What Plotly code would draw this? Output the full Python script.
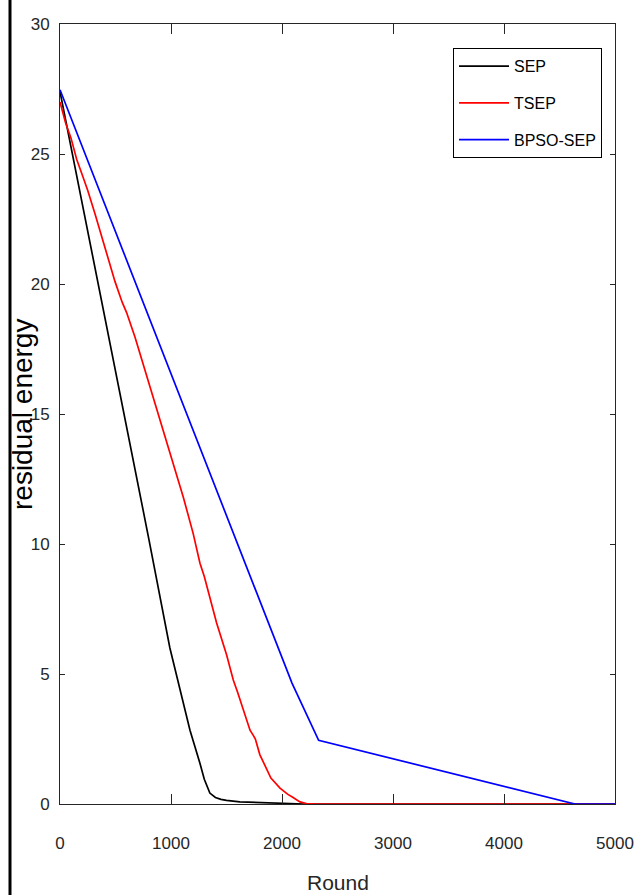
import plotly.graph_objects as go

# ---- data ----
sep_round = [0, 200, 400, 630, 800, 990, 1100, 1171, 1260, 1300, 1350, 1400, 1450, 1500, 1620, 1800, 2000, 2200, 5000]
sep_energy = [27.4, 23.1, 18.8, 14.0, 10.2, 6.0, 4.1, 2.84, 1.58, 0.95, 0.42, 0.25, 0.18, 0.14, 0.08, 0.05, 0.02, 0.0, 0.0]

tsep_round = [0, 50, 100, 150, 200, 250, 315, 400, 495, 560, 600, 676, 750, 800, 856, 916, 1000, 1111, 1200, 1261, 1300,
              1411, 1500, 1561, 1600, 1712, 1740, 1760, 1800, 1862, 1900, 1982, 2050, 2100, 2162, 2220, 2300, 5000]
tsep_energy = [27.0, 26.2, 25.6, 24.8, 24.2, 23.6, 22.7, 21.5, 20.1, 19.3, 18.9, 17.95, 16.9, 16.2, 15.4, 14.5, 13.3, 11.8,
               10.4, 9.26, 8.75, 6.96, 5.75, 4.77, 4.3, 2.84, 2.65, 2.5, 1.9, 1.31, 1.0, 0.61, 0.38, 0.25, 0.08, 0.02, 0.0, 0.0]

bpso_round = [0, 500, 1000, 1500, 2090, 2330, 3000, 3990, 4640, 5000]
bpso_energy = [27.47, 22.0, 16.55, 11.1, 4.65, 2.45, 1.74, 0.69, 0.0, 0.0]

x_ticks = [0, 1000, 2000, 3000, 4000, 5000]
y_ticks = [0, 5, 10, 15, 20, 25, 30]

FONT = "Liberation Sans, Arial, sans-serif"
AX = "#262626"

fig = go.Figure()
fig.add_trace(go.Scatter(x=sep_round, y=sep_energy, mode="lines", name="SEP", legendgroup="a",
                         line=dict(color="#000000", width=1.7)))
fig.add_trace(go.Scatter(x=tsep_round, y=tsep_energy, mode="lines", name="TSEP", legendgroup="b",
                         line=dict(color="#ff0000", width=1.7)))
fig.add_trace(go.Scatter(x=bpso_round, y=bpso_energy, mode="lines", name="BPSO-SEP", legendgroup="c",
                         line=dict(color="#0000ff", width=1.7)))

fig.update_layout(
    width=637, height=895,
    margin=dict(l=60, r=22, t=24, b=91, autoexpand=False),
    paper_bgcolor="white", plot_bgcolor="white",
    font=dict(family=FONT, color=AX, size=17),
    showlegend=True,
    legend=dict(x=0.9766, y=0.969, xanchor="right", yanchor="top",
                bgcolor="white", bordercolor="#000000", borderwidth=1,
                font=dict(family=FONT, size=16, color="#000000"),
                tracegroupgap=13, itemwidth=50),
    shapes=[dict(type="line", xref="paper", yref="paper",
                 x0=-50/555, x1=-50/555, y0=-91/780, y1=1 + 24/780,
                 line=dict(color="black", width=3))],
    annotations=[
        dict(text="residual energy", xref="paper", yref="paper", x=-38/555, y=0.4987,
             textangle=-90, showarrow=False, xanchor="center", yanchor="middle",
             font=dict(family=FONT, size=28, color="#000000")),
        dict(text="Round", xref="paper", yref="paper", x=0.5, y=-78/780,
             showarrow=False, xanchor="center", yanchor="middle",
             font=dict(family=FONT, size=21, color=AX)),
    ],
)

fig.update_xaxes(range=[0, 5000], tickvals=x_ticks, ticktext=[str(v) for v in x_ticks],
                 ticks="inside", ticklen=10, tickwidth=1, tickcolor=AX,
                 showline=True, linecolor=AX, linewidth=1, mirror="ticks",
                 showgrid=False, zeroline=False, automargin=False,
                 ticklabelstandoff=24, ticklabeloverflow="allow",
                 tickfont=dict(family=FONT, size=17, color=AX))
fig.update_yaxes(range=[0, 30], tickvals=y_ticks, ticktext=[str(v) for v in y_ticks],
                 ticks="inside", ticklen=5, tickwidth=1, tickcolor=AX,
                 showline=True, linecolor=AX, linewidth=1, mirror="ticks",
                 showgrid=False, zeroline=False, automargin=False,
                 ticklabelstandoff=6, ticklabeloverflow="allow",
                 tickfont=dict(family=FONT, size=17, color=AX))

fig.write_html("out.html")
